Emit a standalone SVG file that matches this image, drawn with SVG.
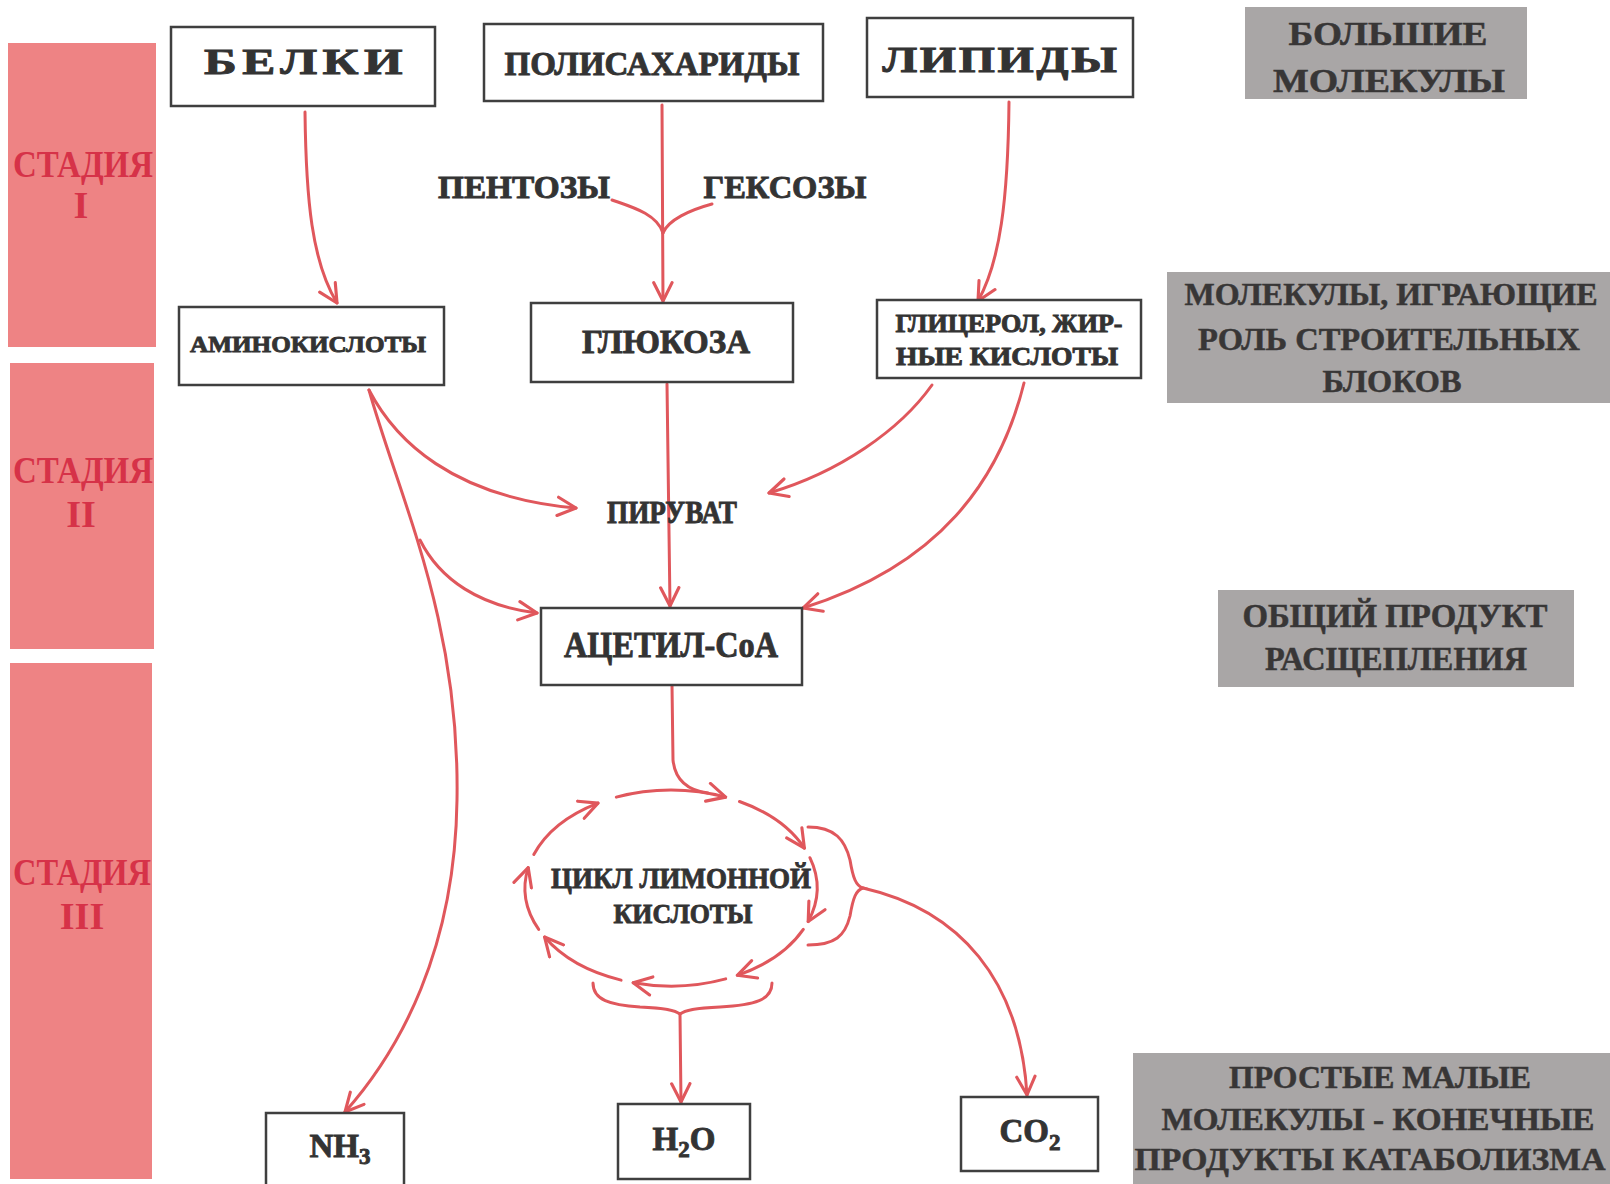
<svg xmlns="http://www.w3.org/2000/svg" width="1610" height="1184" viewBox="0 0 1610 1184">
<defs>
<marker id="ah" viewBox="0 0 12 12" refX="11" refY="6" markerWidth="22" markerHeight="22" markerUnits="userSpaceOnUse" orient="auto">
<path d="M1,1 L11,6 L1,11" fill="none" stroke="#e0575c" stroke-width="1.7" stroke-linecap="round" stroke-linejoin="round"/>
</marker>
</defs>
<style>
.stage{fill:#ee8384}
.stxt{fill:#d63248;font-family:"Liberation Serif",serif;font-weight:bold;font-size:38px;text-anchor:middle}
.box{fill:#fff;stroke:#3f3f3f;stroke-width:2.5}
.lbl{fill:#333;stroke:#333;stroke-width:0.9;font-family:"Liberation Serif",serif;font-weight:bold;text-anchor:middle}
.gray{fill:#a9a6a6}
.gtxt{fill:#383636;stroke:#383636;stroke-width:0.5;font-family:"Liberation Serif",serif;font-weight:bold;text-anchor:middle}
.ln{fill:none;stroke:#e0575c;stroke-width:3;stroke-linecap:round}
.arr{marker-end:url(#ah)}
</style>
<rect width="1610" height="1184" fill="#fff"/>

<g id="stage1">
<rect class="stage" x="8" y="43" width="148" height="304"/>
<text class="stxt" x="83" y="177" textLength="140" lengthAdjust="spacingAndGlyphs">СТАДИЯ</text>
<text class="stxt" x="81" y="218">I</text>
</g>
<g id="stage2">
<rect class="stage" x="10" y="363" width="144" height="286"/>
<text class="stxt" x="83" y="483" textLength="140" lengthAdjust="spacingAndGlyphs">СТАДИЯ</text>
<text class="stxt" x="81" y="527">II</text>
</g>
<g id="stage3">
<rect class="stage" x="10" y="663" width="142" height="516"/>
<text class="stxt" x="82" y="885" textLength="138" lengthAdjust="spacingAndGlyphs">СТАДИЯ</text>
<text class="stxt" x="82" y="929">III</text>
</g>

<g id="connectors">
<path class="ln arr" d="M305,112 C306,200 312,262 337,303"/>
<path class="ln arr" d="M662,105 L663,301"/>
<path class="ln" d="M612,200 C632,207 657,214 663,233"/>
<path class="ln" d="M712,204 C690,210 668,220 663,233"/>
<path class="ln arr" d="M1009,102 C1008,200 1000,262 978,301"/>
<path class="ln arr" d="M667,384 L670,606"/>
<path class="ln arr" d="M932,385 C900,430 840,472 769,493"/>
<path class="ln arr" d="M1024,383 C1000,480 940,565 803,608"/>
<path class="ln arr" d="M369,390 C395,440 452,497 576,508"/>
<path class="ln arr" d="M369,390 C400,500 460,620 457,800 C455,950 400,1050 345,1112"/>
<path class="ln arr" d="M420,540 C440,580 480,606 537,613"/>
<path class="ln" d="M672,685 L673,760 Q676,789 708,793"/>
<path class="ln arr" d="M616.3,797.1 A146,98 0 0,1 725.7,797.1"/>
<path class="ln arr" d="M739.5,801.5 A146,98 0 0,1 804.4,848.1"/>
<path class="ln arr" d="M809.9,857.7 A146,98 0 0,1 808.2,921.5"/>
<path class="ln arr" d="M803.3,929.4 A146,98 0 0,1 737.3,975.3"/>
<path class="ln arr" d="M725.7,978.9 A146,98 0 0,1 633.2,982.7"/>
<path class="ln arr" d="M621.1,980.1 A146,98 0 0,1 544.6,937.0"/>
<path class="ln arr" d="M538.7,929.4 A146,98 0 0,1 528.2,867.6"/>
<path class="ln arr" d="M533.8,854.5 A146,98 0 0,1 598.0,803.1"/>
<path class="ln" d="M808,827 C835,827 845,840 850,860 C853,878 856,886 863,888 C856,890 853,898 850,916 C845,936 835,945 808,945" stroke-width="2.5"/>
<path class="ln arr" d="M863,888 C960,910 1020,980 1027,1095"/>
<path class="ln" d="M593,983 C593,1000 610,1005 640,1007 C665,1008 675,1010 680,1014 C685,1010 695,1008 720,1007 C755,1005 772,1000 772,983" stroke-width="2.5"/>
<path class="ln arr" d="M680,1014 L681,1102"/>
</g>

<g id="belki">
<rect class="box" x="171" y="27" width="264" height="79"/>
<text class="lbl" x="306" y="74" font-size="36" letter-spacing="4" textLength="204" lengthAdjust="spacingAndGlyphs">БЕЛКИ</text>
</g>
<g id="polysaccharides">
<rect class="box" x="484" y="24" width="339" height="77"/>
<text class="lbl" x="652" y="75" font-size="33" textLength="295" lengthAdjust="spacingAndGlyphs">ПОЛИСАХАРИДЫ</text>
</g>
<g id="lipids">
<rect class="box" x="867" y="18" width="266" height="79"/>
<text class="lbl" x="1001" y="72" font-size="35" letter-spacing="2" textLength="237" lengthAdjust="spacingAndGlyphs">ЛИПИДЫ</text>
</g>
<g id="pentoses">
<text class="lbl" x="524" y="198" font-size="32" textLength="172" lengthAdjust="spacingAndGlyphs">ПЕНТОЗЫ</text>
</g>
<g id="hexoses">
<text class="lbl" x="785" y="198" font-size="32" textLength="163" lengthAdjust="spacingAndGlyphs">ГЕКСОЗЫ</text>
</g>
<g id="aminoacids">
<rect class="box" x="179" y="307" width="265" height="78"/>
<text class="lbl" x="308" y="352" font-size="24" textLength="236" lengthAdjust="spacingAndGlyphs">АМИНОКИСЛОТЫ</text>
</g>
<g id="glucose">
<rect class="box" x="531" y="303" width="262" height="79"/>
<text class="lbl" x="666" y="353" font-size="34" textLength="168" lengthAdjust="spacingAndGlyphs">ГЛЮКОЗА</text>
</g>
<g id="glycerol">
<rect class="box" x="877" y="300" width="264" height="78"/>
<text class="lbl" x="1009" y="332" font-size="25" textLength="227" lengthAdjust="spacingAndGlyphs">ГЛИЦЕРОЛ, ЖИР-</text>
<text class="lbl" x="1007" y="365" font-size="25" textLength="222" lengthAdjust="spacingAndGlyphs">НЫЕ КИСЛОТЫ</text>
</g>
<g id="pyruvate">
<text class="lbl" x="672" y="523" font-size="31" textLength="130" lengthAdjust="spacingAndGlyphs">ПИРУВАТ</text>
</g>
<g id="acetylcoa">
<rect class="box" x="541" y="608" width="261" height="77"/>
<text class="lbl" x="671" y="657" font-size="36" textLength="214" lengthAdjust="spacingAndGlyphs">АЦЕТИЛ-CoA</text>
</g>
<g id="cycle">
<text class="lbl" x="681" y="888" font-size="30" textLength="260" lengthAdjust="spacingAndGlyphs">ЦИКЛ ЛИМОННОЙ</text>
<text class="lbl" x="683" y="923" font-size="28" textLength="139" lengthAdjust="spacingAndGlyphs">КИСЛОТЫ</text>
</g>
<g id="nh3">
<rect class="box" x="266" y="1113" width="138" height="80"/>
<text class="lbl" x="340" y="1157" font-size="33" stroke-width="0.3"><tspan>NH</tspan><tspan font-size="23" dy="7">3</tspan></text>
</g>
<g id="h2o">
<rect class="box" x="618" y="1104" width="132" height="75"/>
<text class="lbl" x="684" y="1150" font-size="33" stroke-width="0.3"><tspan>H</tspan><tspan font-size="23" dy="7">2</tspan><tspan dy="-7">O</tspan></text>
</g>
<g id="co2">
<rect class="box" x="961" y="1097" width="137" height="74"/>
<text class="lbl" x="1030" y="1142" font-size="33" stroke-width="0.3"><tspan>CO</tspan><tspan font-size="23" dy="8">2</tspan></text>
</g>

<g id="label-large">
<rect class="gray" x="1245" y="7" width="282" height="92"/>
<text class="gtxt" x="1388" y="45" font-size="34" textLength="199" lengthAdjust="spacingAndGlyphs">БОЛЬШИЕ</text>
<text class="gtxt" x="1389" y="92" font-size="34" textLength="232" lengthAdjust="spacingAndGlyphs">МОЛЕКУЛЫ</text>
</g>
<g id="label-blocks">
<rect class="gray" x="1167" y="272" width="443" height="131"/>
<text class="gtxt" x="1391" y="305" font-size="31" textLength="413" lengthAdjust="spacingAndGlyphs">МОЛЕКУЛЫ, ИГРАЮЩИЕ</text>
<text class="gtxt" x="1389" y="350" font-size="31" textLength="382" lengthAdjust="spacingAndGlyphs">РОЛЬ СТРОИТЕЛЬНЫХ</text>
<text class="gtxt" x="1392" y="392" font-size="31" textLength="139" lengthAdjust="spacingAndGlyphs">БЛОКОВ</text>
</g>
<g id="label-common">
<rect class="gray" x="1218" y="590" width="356" height="97"/>
<text class="gtxt" x="1395" y="627" font-size="33" textLength="305" lengthAdjust="spacingAndGlyphs">ОБЩИЙ ПРОДУКТ</text>
<text class="gtxt" x="1396" y="670" font-size="33" textLength="262" lengthAdjust="spacingAndGlyphs">РАСЩЕПЛЕНИЯ</text>
</g>
<g id="label-small">
<rect class="gray" x="1133" y="1053" width="477" height="131"/>
<text class="gtxt" x="1380" y="1088" font-size="31" textLength="302" lengthAdjust="spacingAndGlyphs">ПРОСТЫЕ МАЛЫЕ</text>
<text class="gtxt" x="1378" y="1130" font-size="31" textLength="433" lengthAdjust="spacingAndGlyphs">МОЛЕКУЛЫ - КОНЕЧНЫЕ</text>
<text class="gtxt" x="1370" y="1170" font-size="31" textLength="471" lengthAdjust="spacingAndGlyphs">ПРОДУКТЫ КАТАБОЛИЗМА</text>
</g>
</svg>
